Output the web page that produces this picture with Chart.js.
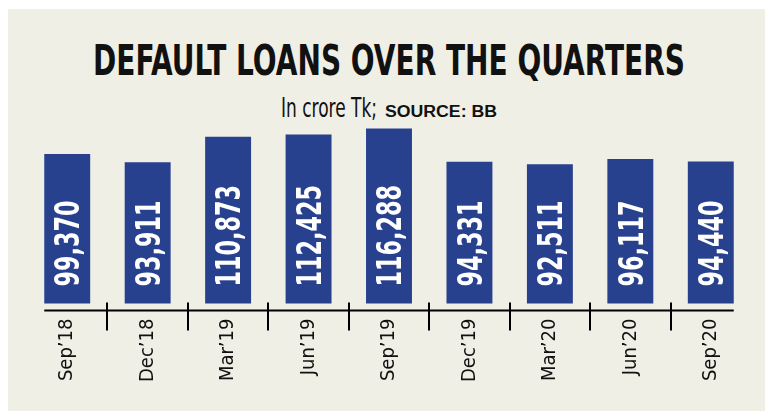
<!DOCTYPE html>
<html lang="en">
<head>
<meta charset="UTF-8">
<title>Default loans over the quarters</title>
<script src="https://cdn.jsdelivr.net/npm/chart.js@4.4.0/dist/chart.umd.min.js"></script>
<style>
*{box-sizing:border-box;margin:0;padding:0}
body{background:#fff;width:765px;height:411px;overflow:hidden;position:relative}
.panel{position:absolute;left:8px;top:9px;width:757px;height:402px;background:#f0efe5}
.fit{position:absolute;white-space:nowrap;transform-origin:0 0;color:#111;line-height:1}
#title{font-family:"Liberation Sans Narrow","DejaVu Sans Condensed",sans-serif;font-weight:700;font-size:42px;left:93px;top:39.5px}
#sub1{font-family:"Liberation Sans Narrow","DejaVu Sans Condensed",sans-serif;font-size:27px;left:281px;top:94px}
#sub2{font-family:"Liberation Sans","DejaVu Sans",sans-serif;font-weight:700;font-size:16px;left:385px;top:103.5px}
canvas{position:absolute;left:0;top:0}
</style>
</head>
<body>
<div class="panel"></div>
<div class="fit" id="title" data-w="592">DEFAULT LOANS OVER THE QUARTERS</div>
<div class="fit" id="sub1" data-w="96">In crore Tk;</div>
<div class="fit" id="sub2" data-w="112">SOURCE: BB</div>
<canvas id="chart" width="765" height="411"></canvas>

<script>
const quarters = ["Sep’18", "Dec’18", "Mar’19", "Jun’19", "Sep’19", "Dec’19", "Mar’20", "Jun’20", "Sep’20"];
const defaultLoans = [99370, 93911, 110873, 112425, 116288, 94331, 92511, 96117, 94440];

const barColor = "#27418e";
const condensed = '"Liberation Sans Narrow","DejaVu Sans Condensed",sans-serif';

// squeeze the headline texts to the widths in the print graphic
document.querySelectorAll(".fit").forEach(el => {
  const w = el.getBoundingClientRect().width;
  el.style.transform = "scaleX(" + (el.dataset.w / w) + ")";
});

// white numbers standing up inside each bar
const barValues = {
  id: "barValues",
  afterDatasetsDraw(chart) {
    const ctx = chart.ctx;
    const meta = chart.getDatasetMeta(0);
    const size = 34;
    ctx.save();
    ctx.font = "bold " + size + "px " + condensed;
    const sx = 86 / ctx.measureText("99,370").width;
    const capH = size * 0.716;
    ctx.fillStyle = "#fff";
    ctx.textAlign = "left";
    ctx.textBaseline = "alphabetic";
    meta.data.forEach((bar, i) => {
      ctx.save();
      ctx.translate(bar.x + capH / 2, bar.base - 17);
      ctx.rotate(-Math.PI / 2);
      ctx.scale(sx, 1);
      ctx.fillText(defaultLoans[i].toLocaleString("en-US"), 0, 0);
      ctx.restore();
    });
    ctx.restore();
  }
};

// baseline with separators between the quarters
const axisLine = {
  id: "axisLine",
  afterDatasetsDraw(chart) {
    const ctx = chart.ctx;
    const x = chart.scales.x;
    const bars = chart.getDatasetMeta(0).data;
    const y = chart.chartArea.bottom;
    const first = bars[0], last = bars[bars.length - 1];
    ctx.save();
    ctx.strokeStyle = "#000";
    ctx.lineWidth = 2;
    ctx.beginPath();
    ctx.moveTo(first.x - first.width / 2, y);
    ctx.lineTo(last.x + last.width / 2, y);
    for (let i = 0; i < quarters.length - 1; i++) {
      const xm = Math.round((x.getPixelForValue(i) + x.getPixelForValue(i + 1)) / 2);
      ctx.moveTo(xm, y - 8);
      ctx.lineTo(xm, y + 20);
    }
    ctx.stroke();
    ctx.restore();
  }
};

new Chart(document.getElementById("chart"), {
  type: "bar",
  data: {
    labels: quarters,
    datasets: [{
      data: defaultLoans,
      backgroundColor: barColor,
      borderWidth: 0,
      categoryPercentage: 1,
      barPercentage: 0.571
    }]
  },
  options: {
    responsive: false,
    animation: false,
    devicePixelRatio: 1,
    layout: { padding: { left: 27, right: 14, top: 123, bottom: 29 } },
    plugins: { legend: { display: false }, tooltip: { enabled: false } },
    scales: {
      x: {
        grid: { display: false },
        border: { display: false },
        ticks: {
          color: "#111",
          font: { family: condensed, size: 20 },
          minRotation: 90, maxRotation: 90,
          autoSkip: false,
          padding: 0
        }
      },
      y: { display: false, min: -4650, max: 120000 }
    }
  },
  plugins: [barValues, axisLine]
});
</script>
</body>
</html>
